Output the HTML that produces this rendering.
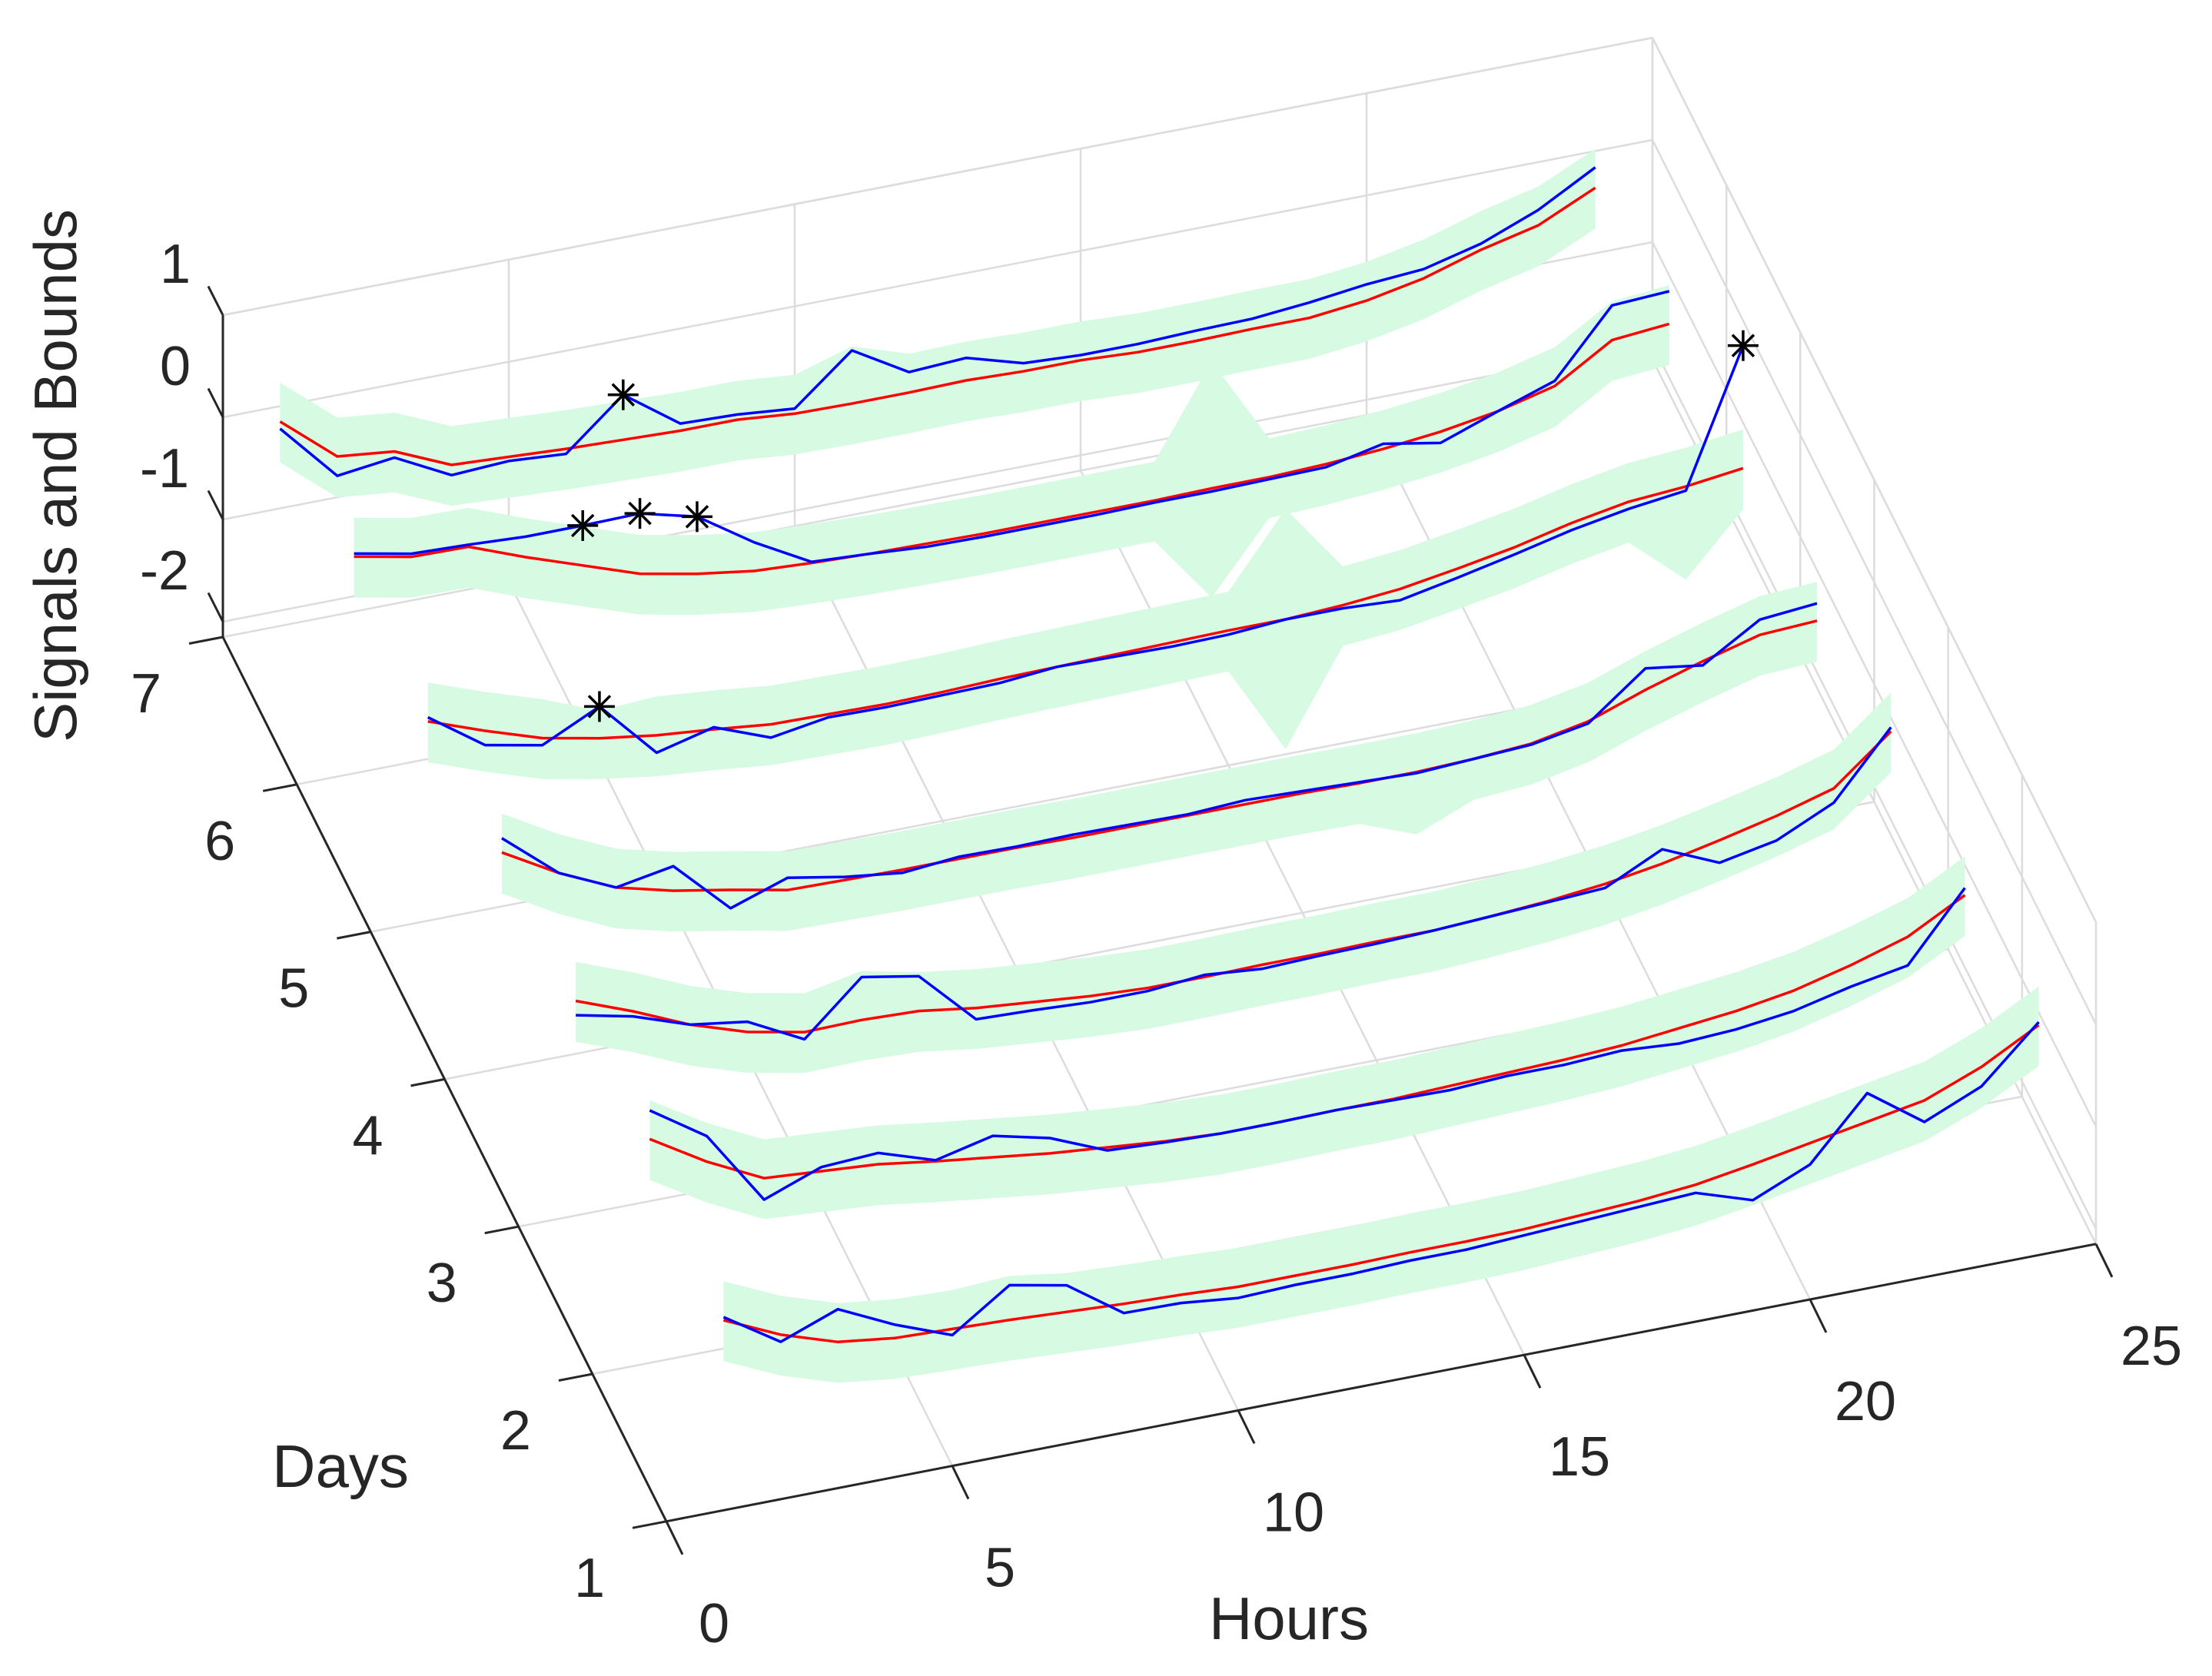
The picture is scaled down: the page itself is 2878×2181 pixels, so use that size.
<!DOCTYPE html>
<html><head><meta charset="utf-8"><style>
html,body{margin:0;padding:0;background:#fff}
svg{display:block}
text{font-family:"Liberation Sans",Arial,sans-serif;fill:#262626}
</style></head>
<body>
<svg id="chart" width="2878" height="2181" viewBox="0 0 2878 2181" xmlns="http://www.w3.org/2000/svg">
<rect width="2878" height="2181" fill="#fff"/>
<g id="grid"></g>
<g id="series"></g>
<g id="axes"></g>
</svg>
<script>
const hours = [1,2,3,4,5,6,7,8,9,10,11,12,13,14,15,16,17,18,19,20,21,22,23,24];
const days = [7,6,5,4,3,2,1];
const xTicks = [0,5,10,15,20,25];
const yTicks = [1,2,3,4,5,6,7];
const zTicks = [-2,-1,0,1];
const xTickLabels = ["0","5","10","15","20","25"];
const yTickLabels = ["1","2","3","4","5","6","7"];
const zTickLabels = ["-2","-1","0","1"];

const model7 = [-0.15,-0.6,-0.66,-0.9,-0.93,-0.96,-0.98,-1.0,-1.0,-1.05,-1.06,-1.06,-1.05,-1.07,-1.07,-1.1,-1.1,-1.09,-1.09,-1.03,-0.92,-0.75,-0.62,-0.36];
const signal7 = [-0.22,-0.79,-0.72,-1.0,-0.97,-1.01,-0.54,-0.93,-0.95,-1.0,-0.54,-0.86,-0.83,-0.99,-1.02,-1.02,-1.0,-0.99,-0.94,-0.87,-0.83,-0.69,-0.47,-0.16];
const upper7 = [0.23,-0.22,-0.28,-0.52,-0.55,-0.58,-0.6,-0.62,-0.62,-0.67,-0.5,-0.68,-0.67,-0.69,-0.69,-0.72,-0.72,-0.71,-0.71,-0.65,-0.54,-0.37,-0.24,0.02];
const lower7 = [-0.55,-1.0,-1.06,-1.3,-1.33,-1.36,-1.38,-1.4,-1.4,-1.45,-1.46,-1.46,-1.45,-1.47,-1.47,-1.5,-1.5,-1.49,-1.49,-1.43,-1.32,-1.15,-1.02,-0.76];

const model6 = [-0.03,-0.14,-0.15,-0.36,-0.55,-0.74,-0.85,-0.93,-0.96,-0.98,-0.99,-1.0,-1.0,-1.0,-1.0,-0.99,-0.99,-0.97,-0.93,-0.87,-0.78,-0.64,-0.3,-0.25];
const signal6 = [0.0,-0.11,-0.13,-0.16,-0.16,-0.15,-0.29,-0.65,-0.95,-0.98,-1.02,-1.03,-1.03,-1.03,-1.02,-1.02,-1.01,-1.0,-0.88,-0.98,-0.78,-0.59,0.04,0.07];
const upper6 = [0.35,0.24,0.23,0.02,-0.17,-0.36,-0.47,-0.55,-0.58,-0.6,-0.61,-0.62,-0.62,-0.62,-0.62,0.25,-0.61,-0.59,-0.55,-0.49,-0.4,-0.26,0.08,0.13];
const lower6 = [-0.43,-0.54,-0.55,-0.76,-0.95,-1.14,-1.25,-1.33,-1.36,-1.38,-1.39,-1.4,-1.4,-1.4,-1.4,-2.06,-1.39,-1.37,-1.33,-1.27,-1.18,-1.04,-0.7,-0.65];

const model5 = [-0.2,-0.4,-0.58,-0.69,-0.77,-0.82,-0.88,-0.89,-0.9,-0.89,-0.87,-0.86,-0.85,-0.84,-0.83,-0.83,-0.8,-0.75,-0.66,-0.56,-0.43,-0.33,-0.29,-0.22];
const signal5 = [-0.16,-0.54,-0.65,-0.38,-0.94,-0.8,-1.01,-0.92,-0.93,-0.92,-0.91,-0.86,-0.87,-0.88,-0.87,-0.83,-0.83,-0.86,-0.75,-0.63,-0.5,-0.4,-0.33,0.98];
const upper5 = [0.18,-0.02,-0.2,-0.42,-0.39,-0.44,-0.5,-0.51,-0.52,-0.51,-0.49,-0.48,-0.47,-0.46,-0.45,0.25,-0.42,-0.37,-0.28,-0.18,-0.05,0.05,0.09,0.16];
const lower5 = [-0.6,-0.8,-0.98,-1.09,-1.17,-1.22,-1.28,-1.29,-1.3,-1.29,-1.27,-1.26,-1.25,-1.24,-1.23,-2.1,-1.2,-1.15,-1.06,-0.96,-0.83,-0.73,-1.2,-0.62];

const model4 = [-0.04,-0.35,-0.6,-0.74,-0.84,-0.95,-0.96,-0.97,-0.97,-0.97,-0.98,-0.98,-0.98,-0.98,-0.98,-0.99,-0.99,-0.97,-0.93,-0.82,-0.62,-0.45,-0.3,-0.27];
const signal4 = [0.1,-0.35,-0.6,-0.5,-1.02,-0.83,-0.93,-1.0,-0.95,-0.96,-0.95,-0.96,-0.97,-0.94,-0.96,-0.98,-1.0,-0.97,-0.94,-0.84,-0.41,-0.49,-0.15,-0.1];
const upper4 = [0.34,0.03,-0.22,-0.36,-0.46,-0.57,-0.58,-0.59,-0.59,-0.59,-0.6,-0.6,-0.6,-0.6,-0.6,-0.61,-0.61,-0.59,-0.55,-0.44,-0.24,-0.07,0.08,0.11];
const lower4 = [-0.44,-0.75,-1.0,-1.14,-1.24,-1.35,-1.36,-1.37,-1.37,-1.37,-1.38,-1.38,-1.38,-1.38,-1.38,-1.39,-1.6,-1.37,-1.33,-1.22,-1.02,-0.85,-0.7,-0.67];

const model3 = [-0.05,-0.26,-0.5,-0.68,-0.79,-0.78,-0.8,-0.88,-0.93,-0.98,-1.01,-1.01,-1.0,-1.0,-0.99,-0.99,-0.96,-0.92,-0.86,-0.77,-0.65,-0.52,-0.36,0.09];
const signal3 = [-0.19,-0.31,-0.5,-0.58,-0.86,-0.36,-0.46,-0.99,-1.01,-1.04,-1.04,-0.99,-1.04,-1.02,-1.01,-0.99,-0.96,-0.93,-0.9,-0.63,-0.87,-0.76,-0.5,0.13];
const upper3 = [0.33,0.12,-0.12,-0.3,-0.41,-0.3,-0.42,-0.5,-0.55,-0.6,-0.63,-0.63,-0.62,-0.62,-0.61,-0.61,-0.58,-0.54,-0.48,-0.39,-0.27,-0.14,0.02,0.47];
const lower3 = [-0.45,-0.66,-0.9,-1.08,-1.19,-1.18,-1.2,-1.28,-1.33,-1.38,-1.41,-1.41,-1.4,-1.4,-1.39,-1.39,-1.36,-1.32,-1.26,-1.17,-1.05,-0.92,-0.76,-0.31];

const model2 = [0.04,-0.29,-0.56,-0.6,-0.64,-0.72,-0.79,-0.86,-0.91,-0.96,-0.99,-0.99,-0.98,-0.98,-0.96,-0.94,-0.92,-0.89,-0.83,-0.77,-0.68,-0.54,-0.37,-0.07];
const signal2 = [0.32,-0.04,-0.77,-0.56,-0.53,-0.71,-0.58,-0.71,-0.94,-0.97,-0.99,-0.99,-0.98,-0.99,-1.0,-0.97,-0.97,-0.94,-0.98,-0.95,-0.88,-0.75,-0.65,0.0];
const upper2 = [0.42,0.09,-0.18,-0.22,-0.26,-0.34,-0.41,-0.48,-0.53,-0.58,-0.61,-0.61,-0.6,-0.6,-0.58,-0.56,-0.54,-0.51,-0.45,-0.39,-0.3,-0.16,0.01,0.31];
const lower2 = [-0.36,-0.69,-0.96,-1.0,-1.04,-1.12,-1.19,-1.26,-1.31,-1.36,-1.39,-1.39,-1.38,-1.38,-1.36,-1.34,-1.32,-1.29,-1.23,-1.17,-1.08,-0.94,-0.77,-0.47];

const model1 = [-0.29,-0.54,-0.72,-0.79,-0.81,-0.83,-0.86,-0.89,-0.91,-0.94,-0.94,-0.94,-0.93,-0.93,-0.92,-0.89,-0.86,-0.81,-0.72,-0.62,-0.52,-0.42,-0.2,0.1];
const signal1 = [-0.26,-0.61,-0.4,-0.66,-0.87,-0.49,-0.6,-0.98,-0.99,-1.05,-1.03,-1.03,-1.01,-1.01,-0.98,-0.95,-0.92,-0.89,-1.07,-0.83,-0.24,-0.63,-0.39,0.13];
const upper1 = [0.09,-0.16,-0.34,-0.41,-0.43,-0.4,-0.48,-0.51,-0.53,-0.56,-0.56,-0.56,-0.55,-0.55,-0.54,-0.51,-0.48,-0.43,-0.34,-0.24,-0.14,-0.04,0.18,0.48];
const lower1 = [-0.69,-0.94,-1.12,-1.19,-1.21,-1.23,-1.26,-1.29,-1.31,-1.34,-1.34,-1.34,-1.33,-1.33,-1.32,-1.29,-1.26,-1.21,-1.12,-1.02,-0.92,-0.82,-0.6,-0.3];

const outlierDays = [7,6,6,6,5,5];
const outlierHours = [7,5,6,7,4,24];

const models = {7:model7,6:model6,5:model5,4:model4,3:model3,2:model2,1:model1};
const signals = {7:signal7,6:signal6,5:signal5,4:signal4,3:signal3,2:signal2,1:signal1};
const uppers = {7:upper7,6:upper6,5:upper5,4:upper4,3:upper3,2:upper2,1:upper1};
const lowers = {7:lower7,6:lower6,5:lower5,4:lower4,3:lower3,2:lower2,1:lower1};

const X0=0,X1=25,Y0=1,Y1=7,Z0=-2.15,Z1=1;
function P(x,y,z){
  return [290 + 96.17*(Y1-y) + 74.4*x, 829 + 191.8*(Y1-y) - 14.44*x - 133*(z-Z0)];
}
const NS='http://www.w3.org/2000/svg';
function mk(tag,attrs,parent){const e=document.createElementNS(NS,tag);for(const k in attrs)e.setAttribute(k,attrs[k]);parent.appendChild(e);return e;}
const grid=document.getElementById('grid'), series=document.getElementById('series'), axes=document.getElementById('axes');
const GC='#dcdcdc';
function line(a,b,col,w,parent,name){
  const e=mk('line',{x1:a[0].toFixed(1),y1:a[1].toFixed(1),x2:b[0].toFixed(1),y2:b[1].toFixed(1),stroke:col,'stroke-width':w},parent);
  
  
  return e;
}
// back wall y=7
xTicks.forEach(x=>line(P(x,Y1,Z0),P(x,Y1,Z1),GC,2.5,grid,'back-wall-vgrid'));
zTicks.forEach(z=>line(P(X0,Y1,z),P(X1,Y1,z),GC,2.5,grid,'back-wall-hgrid'));
line(P(X0,Y1,Z1),P(X1,Y1,Z1),GC,2.5,grid,'back-wall-top');
// floor
xTicks.forEach(x=>line(P(x,Y0,Z0),P(x,Y1,Z0),GC,2.5,grid,'floor-grid-hours'));
yTicks.forEach(y=>line(P(X0,y,Z0),P(X1,y,Z0),GC,2.5,grid,'floor-grid-days'));
// right wall x=25
yTicks.forEach(y=>line(P(X1,y,Z0),P(X1,y,Z1),GC,2.5,grid,'side-wall-vgrid'));
zTicks.forEach(z=>line(P(X1,Y0,z),P(X1,Y1,z),GC,2.5,grid,'side-wall-hgrid'));
line(P(X1,Y0,Z1),P(X1,Y1,Z1),GC,2.5,grid,'side-wall-top');

function pts(y,arr){return hours.map((h,i)=>P(h,y,arr[i]).map(v=>v.toFixed(1)).join(',')).join(' ');}
days.forEach(d=>{
  const g=mk('g',{},series);
  
  
  const up=uppers[d], lo=lowers[d];
  const poly = pts(d,up)+' '+hours.slice().reverse().map((h,k)=>{const i=hours.length-1-k;return P(h,d,lo[i]).map(v=>v.toFixed(1)).join(',');}).join(' ');
  const band=mk('polygon',{points:poly,fill:'rgb(214,250,226)',stroke:'none'},g);
  
  
  const r=mk('polyline',{points:pts(d,models[d]),fill:'none',stroke:'#ff0000','stroke-width':3.5,'stroke-linejoin':'round'},g);
  
  
  const b=mk('polyline',{points:pts(d,signals[d]),fill:'none',stroke:'#0000ff','stroke-width':3.5,'stroke-linejoin':'round'},g);
  
  
  outlierDays.forEach((od,k)=>{
    if(od!==d) return;
    const h=outlierHours[k];
    const p=P(h,d,signals[d][hours.indexOf(h)]);
    const s=mk('g',{stroke:'#000','stroke-width':3.5},g);
    
    
    const R=20;
    [[0,R],[R,0],[R*0.7,R*0.7],[R*0.7,-R*0.7]].forEach(v=>mk('line',{x1:p[0]-v[0],y1:p[1]-v[1],x2:p[0]+v[0],y2:p[1]+v[1]},s));
  });
});

// axis lines
const AC='#262626';
line(P(X0,Y0,Z0),P(X1,Y0,Z0),AC,3,axes,'x-axis-line');
line(P(X0,Y0,Z0),P(X0,Y1,Z0),AC,3,axes,'y-axis-line');
line(P(X0,Y1,Z0),P(X0,Y1,Z1),AC,3,axes,'z-axis-line');
function txt(x,y,s,size,name,extra){
  const t=mk('text',Object.assign({x:x.toFixed(1),y:y.toFixed(1),'font-size':size,'text-anchor':'middle','dominant-baseline':'central'},extra||{}),axes);
  t.textContent=s;
  
  
  return t;
}
xTicks.forEach((x,i)=>{
  const a=P(x,Y0,Z0), b=[a[0]+21,a[1]+43];
  line(a,b,AC,3,axes,'x-tick');
  txt(a[0]+62+10*(xTickLabels[i].length-1),a[1]+133,xTickLabels[i],72,'x-tick-label');
});
yTicks.forEach((y,i)=>{
  const a=P(X0,y,Z0), b=[a[0]-44,a[1]+8.5];
  line(a,b,AC,3,axes,'y-tick');
  txt(a[0]-100,a[1]+74,yTickLabels[i],72,'y-tick-label');
});
zTicks.forEach((z,i)=>{
  const a=P(X0,Y1,z), b=[a[0]-19,a[1]-37.5];
  line(a,b,AC,3,axes,'z-tick');
  txt(a[0]-62-(zTickLabels[i].length-1)*14,a[1]-66,zTickLabels[i],72,'z-tick-label');
});
txt(1677,2106,'Hours',78,'x-axis-title');
txt(443,1908,'Days',78,'y-axis-title');
txt(72,619,'Signals and Bounds',78,'z-axis-title',{transform:'rotate(-90 72 619)'});
</script>
</body></html>
